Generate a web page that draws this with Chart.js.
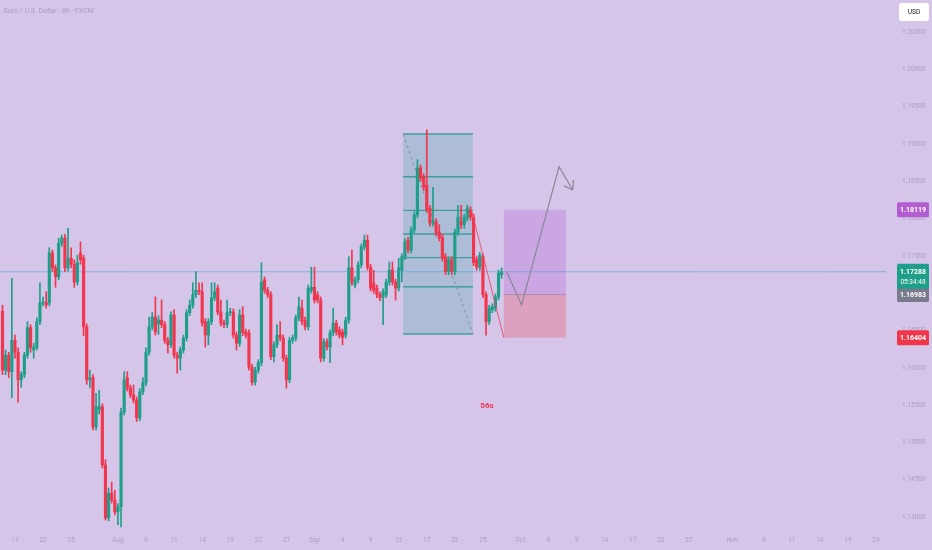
<!DOCTYPE html>
<html><head><meta charset="utf-8">
<script src="https://cdn.jsdelivr.net/npm/chart.js@4.4.1/dist/chart.umd.min.js"></script>
<style>html,body{margin:0;padding:0;background:#d4c5e9;overflow:hidden}canvas{display:block}</style>
</head><body>
<canvas id="c" width="932" height="550"></canvas>
<script>
// ---- data (EUR/USD, 8h candles) ----
const opens = [
1.1676,1.1597,1.1617,1.1595,1.1637,1.1621,1.1584,1.1591,1.1617,1.1654,
1.1624,1.1627,1.1662,1.1687,1.1688,1.1687,1.1754,1.1734,1.1722,1.1767,
1.1774,1.1734,1.1747,1.1739,1.1715,1.1754,1.1747,1.1655,1.1584,1.1587,
1.1521,1.1544,1.1548,1.1470,1.1399,1.1432,1.1423,1.1407,1.1414,1.1541,
1.1587,1.1573,1.1564,1.1557,1.1533,1.1568,1.1580,1.1621,1.1655,1.1668,
1.1659,1.1664,1.1658,1.1637,1.1631,1.1671,1.1617,1.1613,1.1624,1.1640,
1.1674,1.1684,1.1698,1.1704,1.1702,1.1662,1.1644,1.1662,1.1694,1.1707,
1.1675,1.1660,1.1658,1.1674,1.1675,1.1644,1.1633,1.1671,1.1648,1.1647,
1.1601,1.1581,1.1597,1.1607,1.1718,1.1704,1.1698,1.1615,1.1631,1.1644,
1.1640,1.1613,1.1584,1.1637,1.1640,1.1667,1.1680,1.1664,1.1655,1.1704,
1.1708,1.1698,1.1691,1.1613,1.1635,1.1628,1.1647,1.1660,1.1651,1.1648,
1.1644,1.1664,1.1734,1.1711,1.1718,1.1738,1.1762,1.1771,1.1735,1.1714,
1.1707,1.1698,1.1695,1.1698,1.1715,1.1731,1.1715,1.1707,1.1731,1.1749,
1.1771,1.1758,1.1785,1.1805,1.1868,1.1856,1.1845,1.1814,1.1794,1.1796,
1.1782,1.1775,1.1749,1.1729,1.1745,1.1729,1.1782,1.1796,1.1792,1.1801,
1.1812,1.1802,1.1745,1.1735,1.1749,1.1698,1.1662,1.1678,1.1680,1.1695,
1.1725];
const highs = [
1.1684,1.1624,1.1621,1.1720,1.1644,1.1627,1.1595,1.1621,1.1662,1.1658,
1.1633,1.1667,1.1714,1.1695,1.1702,1.1761,1.1758,1.1738,1.1774,1.1778,
1.1779,1.1787,1.1761,1.1745,1.1751,1.1769,1.1751,1.1659,1.1597,1.1591,
1.1566,1.1570,1.1552,1.1477,1.1439,1.1447,1.1436,1.1418,1.1546,1.1595,
1.1595,1.1577,1.1577,1.1561,1.1572,1.1587,1.1627,1.1668,1.1674,1.1695,
1.1670,1.1691,1.1662,1.1641,1.1675,1.1678,1.1621,1.1628,1.1644,1.1678,
1.1691,1.1714,1.1729,1.1714,1.1714,1.1666,1.1666,1.1714,1.1714,1.1711,
1.1691,1.1664,1.1691,1.1680,1.1679,1.1648,1.1678,1.1682,1.1652,1.1651,
1.1605,1.1601,1.1611,1.1741,1.1722,1.1708,1.1702,1.1635,1.1658,1.1662,
1.1644,1.1617,1.1641,1.1644,1.1671,1.1695,1.1691,1.1668,1.1711,1.1735,
1.1735,1.1702,1.1695,1.1639,1.1639,1.1651,1.1680,1.1664,1.1655,1.1652,
1.1668,1.1749,1.1758,1.1722,1.1742,1.1766,1.1778,1.1778,1.1739,1.1731,
1.1711,1.1702,1.1706,1.1719,1.1742,1.1742,1.1719,1.1747,1.1753,1.1773,
1.1775,1.1789,1.1809,1.1879,1.1872,1.1860,1.1919,1.1818,1.1842,1.1800,
1.1792,1.1779,1.1753,1.1749,1.1749,1.1786,1.1818,1.1818,1.1806,1.1818,
1.1816,1.1806,1.1749,1.1755,1.1753,1.1702,1.1684,1.1686,1.1699,1.1731,
1.1734];
const lows = [
1.1591,1.1591,1.1587,1.1560,1.1613,1.1554,1.1574,1.1587,1.1613,1.1621,
1.1613,1.1624,1.1658,1.1683,1.1680,1.1683,1.1729,1.1708,1.1718,1.1763,
1.1729,1.1730,1.1734,1.1708,1.1711,1.1739,1.1643,1.1578,1.1573,1.1517,
1.1517,1.1538,1.1466,1.1396,1.1395,1.1419,1.1403,1.1390,1.1387,1.1537,
1.1569,1.1560,1.1553,1.1528,1.1529,1.1564,1.1576,1.1617,1.1651,1.1644,
1.1645,1.1654,1.1633,1.1620,1.1627,1.1613,1.1593,1.1597,1.1620,1.1636,
1.1670,1.1680,1.1694,1.1698,1.1656,1.1628,1.1631,1.1658,1.1690,1.1671,
1.1656,1.1654,1.1654,1.1670,1.1640,1.1624,1.1629,1.1643,1.1640,1.1597,
1.1577,1.1577,1.1593,1.1603,1.1700,1.1694,1.1611,1.1608,1.1627,1.1636,
1.1609,1.1573,1.1580,1.1633,1.1636,1.1663,1.1658,1.1651,1.1651,1.1700,
1.1687,1.1687,1.1608,1.1609,1.1624,1.1607,1.1643,1.1644,1.1640,1.1631,
1.1640,1.1660,1.1711,1.1707,1.1714,1.1734,1.1758,1.1731,1.1703,1.1700,
1.1694,1.1690,1.1658,1.1694,1.1711,1.1711,1.1691,1.1703,1.1715,1.1745,
1.1754,1.1754,1.1781,1.1801,1.1850,1.1838,1.1808,1.1790,1.1790,1.1777,
1.1770,1.1743,1.1725,1.1725,1.1725,1.1725,1.1778,1.1787,1.1787,1.1797,
1.1798,1.1737,1.1731,1.1731,1.1694,1.1644,1.1658,1.1674,1.1676,1.1691,
1.1720];
const closes = [
1.1597,1.1617,1.1595,1.1637,1.1621,1.1584,1.1591,1.1617,1.1654,1.1627,
1.1628,1.1662,1.1687,1.1688,1.1684,1.1754,1.1734,1.1722,1.1767,1.1774,
1.1734,1.1747,1.1739,1.1715,1.1741,1.1745,1.1655,1.1584,1.1587,1.1521,
1.1548,1.1548,1.1470,1.1399,1.1432,1.1423,1.1407,1.1414,1.1541,1.1584,
1.1573,1.1564,1.1557,1.1533,1.1568,1.1580,1.1621,1.1655,1.1668,1.1648,
1.1664,1.1658,1.1637,1.1631,1.1671,1.1617,1.1613,1.1624,1.1640,1.1674,
1.1684,1.1698,1.1704,1.1702,1.1660,1.1644,1.1662,1.1694,1.1702,1.1675,
1.1660,1.1658,1.1674,1.1675,1.1644,1.1633,1.1671,1.1647,1.1644,1.1601,
1.1581,1.1597,1.1607,1.1715,1.1704,1.1698,1.1615,1.1631,1.1644,1.1640,
1.1613,1.1584,1.1637,1.1640,1.1667,1.1682,1.1662,1.1655,1.1707,1.1708,
1.1691,1.1691,1.1613,1.1635,1.1628,1.1647,1.1660,1.1648,1.1644,1.1641,
1.1664,1.1734,1.1715,1.1718,1.1738,1.1762,1.1771,1.1735,1.1707,1.1704,
1.1698,1.1694,1.1702,1.1715,1.1731,1.1715,1.1707,1.1734,1.1749,1.1769,
1.1758,1.1785,1.1805,1.1868,1.1854,1.1842,1.1812,1.1794,1.1797,1.1781,
1.1774,1.1747,1.1729,1.1745,1.1729,1.1782,1.1802,1.1792,1.1802,1.1814,
1.1802,1.1741,1.1735,1.1751,1.1698,1.1662,1.1680,1.1682,1.1695,1.1727,
1.17288];

const timeLabels = ['17','22','25','Aug','6','11','14','19','22','27','Sep','4','9','12','17','22','25','Oct','6','9','14','17','22','27','Nov','6','11','14','19','24'];
const timeTickIndex = [4,13,22,37,46,55,64,73,82,91,100,109,118,127,136,145,154,166,175,184,193,202,211,220,234,244,253,262,271,280];
const priceTicks = [1.140,1.145,1.150,1.155,1.160,1.165,1.170,1.175,1.180,1.185,1.190,1.195,1.200,1.205];

const lastPrice = 1.17288;
const countdown = '05:34:48';
const entryPrice = 1.16983;
const targetPrice = 1.18119;
const stopPrice = 1.16404;

const fibLevels = [0, 0.236, 0.382, 0.5, 0.618, 0.786, 1];
const fibHigh = 1.19134, fibLow = 1.16454;
const fibSpan = [128.4, 150.8];
const positionSpan = [160.7, 180.6];
const trendIdx = [150.5, 160.7], trendPrice = [1.1809, 1.16404];
const arrowIdx = [161.6, 166.4, 178.4, 182.8];
const arrowPrice = [1.17289, 1.16843, 1.18696, 1.18384];
const noteIdx = 155.3, notePrice = 1.1549, noteText = '56s';
const titleText = 'Euro / U.S. Dollar · 8h · FXCM';

// ---- styles ----
const UP = '#1f9e89', DOWN = '#f2364d';
const AXIS_TXT = '#ab9fbe';
const FONT = 'Roboto, "Liberation Sans", sans-serif';

const idx = opens.map((_, i) => i);
const bodies = idx.map(i => ({x: i, y: [opens[i], closes[i]]}));
const wicks = idx.map(i => ({x: i, y: [lows[i], highs[i]]}));
const colorAt = i => closes[i] >= opens[i] ? UP : DOWN;

function seg(ctx, x0, y0, x1, y1) { ctx.beginPath(); ctx.moveTo(x0, y0); ctx.lineTo(x1, y1); ctx.stroke(); }

const overlay = {
  id: 'overlay',
  beforeDatasetsDraw(chart) {
    const {ctx, chartArea: a, scales: {x, y}} = chart;
    ctx.save();
    ctx.beginPath(); ctx.rect(a.left, a.top, a.right - a.left, a.bottom - a.top); ctx.clip();
    // fib box
    const fx0 = x.getPixelForValue(fibSpan[0]), fx1 = x.getPixelForValue(fibSpan[1]);
    const fy0 = y.getPixelForValue(fibHigh), fy1 = y.getPixelForValue(fibLow);
    ctx.fillStyle = 'rgba(90,170,178,0.32)';
    ctx.fillRect(fx0, fy0, fx1 - fx0, fy1 - fy0);
    ctx.strokeStyle = '#3f9e9c'; ctx.lineWidth = 1.4;
    fibLevels.forEach(l => {
      const py = y.getPixelForValue(fibLow + (fibHigh - fibLow) * l);
      seg(ctx, fx0, py, fx1, py);
    });
    ctx.setLineDash([3, 3]); ctx.strokeStyle = '#8d8ea0'; ctx.lineWidth = 1;
    seg(ctx, fx0, fy0, fx1, fy1);
    ctx.setLineDash([]);
    // position tool
    const px0 = x.getPixelForValue(positionSpan[0]), px1 = x.getPixelForValue(positionSpan[1]);
    const ty = y.getPixelForValue(targetPrice), ey = y.getPixelForValue(entryPrice), sy = y.getPixelForValue(stopPrice);
    ctx.fillStyle = 'rgba(180,100,214,0.30)';
    ctx.fillRect(px0, ty, px1 - px0, ey - ty);
    ctx.fillStyle = 'rgba(242,54,69,0.25)';
    ctx.fillRect(px0, ey, px1 - px0, sy - ey);
    ctx.strokeStyle = 'rgba(140,110,150,0.5)'; ctx.lineWidth = 1;
    seg(ctx, px0, ey, px1, ey);
    // last price line
    const ly = y.getPixelForValue(lastPrice);
    ctx.strokeStyle = 'rgba(70,160,215,0.55)'; ctx.lineWidth = 1;
    seg(ctx, a.left, ly, a.right, ly);
    ctx.restore();
  },
  afterDatasetsDraw(chart) {
    const {ctx, scales: {x, y}} = chart;
    ctx.save();
    // red trend line
    ctx.strokeStyle = 'rgba(236,70,100,0.85)'; ctx.lineWidth = 1;
    seg(ctx, x.getPixelForValue(trendIdx[0]), y.getPixelForValue(trendPrice[0]),
             x.getPixelForValue(trendIdx[1]), y.getPixelForValue(trendPrice[1]));
    // projected path arrow
    const pts = arrowIdx.map((v, i) => [x.getPixelForValue(v), y.getPixelForValue(arrowPrice[i])]);
    ctx.strokeStyle = '#8a8596'; ctx.lineWidth = 1.2;
    ctx.beginPath(); ctx.moveTo(pts[0][0], pts[0][1]);
    pts.slice(1).forEach(p => ctx.lineTo(p[0], p[1]));
    ctx.stroke();
    const tip = pts[pts.length - 1], prev = pts[pts.length - 2];
    const ang = Math.atan2(tip[1] - prev[1], tip[0] - prev[0]) + Math.PI;
    [0.6, -0.6].forEach(d => seg(ctx, tip[0], tip[1], tip[0] + 10 * Math.cos(ang + d), tip[1] + 10 * Math.sin(ang + d)));
    // note
    ctx.fillStyle = '#f2364d'; ctx.font = 'bold 8px ' + FONT;
    ctx.textAlign = 'center'; ctx.textBaseline = 'middle';
    ctx.fillText(noteText, x.getPixelForValue(noteIdx), y.getPixelForValue(notePrice));
    ctx.restore();
  },
  afterDraw(chart) {
    const {ctx, chartArea: a, scales: {y}} = chart;
    ctx.save();
    const bx = a.right + 11, bw = 32;
    const box = (price, bg, txt, sub) => {
      const py = y.getPixelForValue(price);
      const h = sub ? 25 : 15;
      const top = sub ? py - 8 : py - h / 2;
      ctx.fillStyle = bg;
      ctx.beginPath(); ctx.roundRect(bx, top, bw, h, 1.5); ctx.fill();
      ctx.fillStyle = '#ffffff'; ctx.textAlign = 'center'; ctx.textBaseline = 'middle';
      ctx.font = 'bold 7px ' + FONT;
      ctx.fillText(txt, bx + bw / 2, sub ? py : py + 0.5);
      if (sub) { ctx.font = '6.5px ' + FONT; ctx.fillText(sub, bx + bw / 2, py + 11); }
    };
    box(targetPrice, '#b25dd1', targetPrice.toFixed(5));
    box(entryPrice, '#7a7a8c', entryPrice.toFixed(5));
    box(stopPrice, '#f0364a', stopPrice.toFixed(5));
    box(lastPrice, '#1f9e89', lastPrice.toFixed(5), countdown);
    // currency box
    ctx.fillStyle = '#ffffff';
    ctx.beginPath(); ctx.roundRect(899, 3, 30, 18, 3); ctx.fill();
    ctx.fillStyle = '#131722'; ctx.font = '6.5px ' + FONT;
    ctx.textAlign = 'center'; ctx.textBaseline = 'middle';
    ctx.fillText('USD', 914, 12.5);
    // title
    ctx.fillStyle = '#a89dba'; ctx.font = '7px ' + FONT;
    ctx.textAlign = 'left';
    ctx.fillText(titleText, 4, 11);
    ctx.restore();
  }
};

new Chart(document.getElementById('c'), {
  type: 'bar',
  data: {
    datasets: [
      {data: wicks, backgroundColor: c => colorAt(c.dataIndex), barThickness: 1, grouped: false, order: 2},
      {data: bodies, backgroundColor: c => colorAt(c.dataIndex), barThickness: 2.5, grouped: false, minBarLength: 1, order: 1}
    ]
  },
  options: {
    responsive: false, animation: false, devicePixelRatio: 1,
    layout: {padding: 0, autoPadding: false},
    plugins: {legend: {display: false}, tooltip: {enabled: false}},
    scales: {
      x: {
        type: 'linear', min: -0.8, max: 283.2, offset: false,
        grid: {display: false, drawTicks: false}, border: {display: false},
        afterBuildTicks: s => { s.ticks = timeTickIndex.map(v => ({value: v})); },
        afterFit: s => { s.height = 21; s.paddingLeft = 0; s.paddingRight = 0; s.paddingTop = 0; s.paddingBottom = 0; },
        ticks: {autoSkip: false, maxRotation: 0, padding: 7, color: AXIS_TXT,
          font: {size: 6.5, family: FONT}, callback: (v, i) => timeLabels[i]}
      },
      y: {
        position: 'right', min: 1.13841, max: 1.2093,
        grid: {display: false, drawTicks: false}, border: {display: false},
        afterBuildTicks: s => { s.ticks = priceTicks.map(v => ({value: v})); },
        afterFit: s => { s.width = 46; s.paddingLeft = 0; s.paddingRight = 0; s.paddingTop = 0; s.paddingBottom = 0; },
        ticks: {padding: 16, color: AXIS_TXT, font: {size: 6.5, family: FONT},
          callback: v => Number(v).toFixed(5)}
      }
    }
  },
  plugins: [overlay]
});
</script>
</body></html>
